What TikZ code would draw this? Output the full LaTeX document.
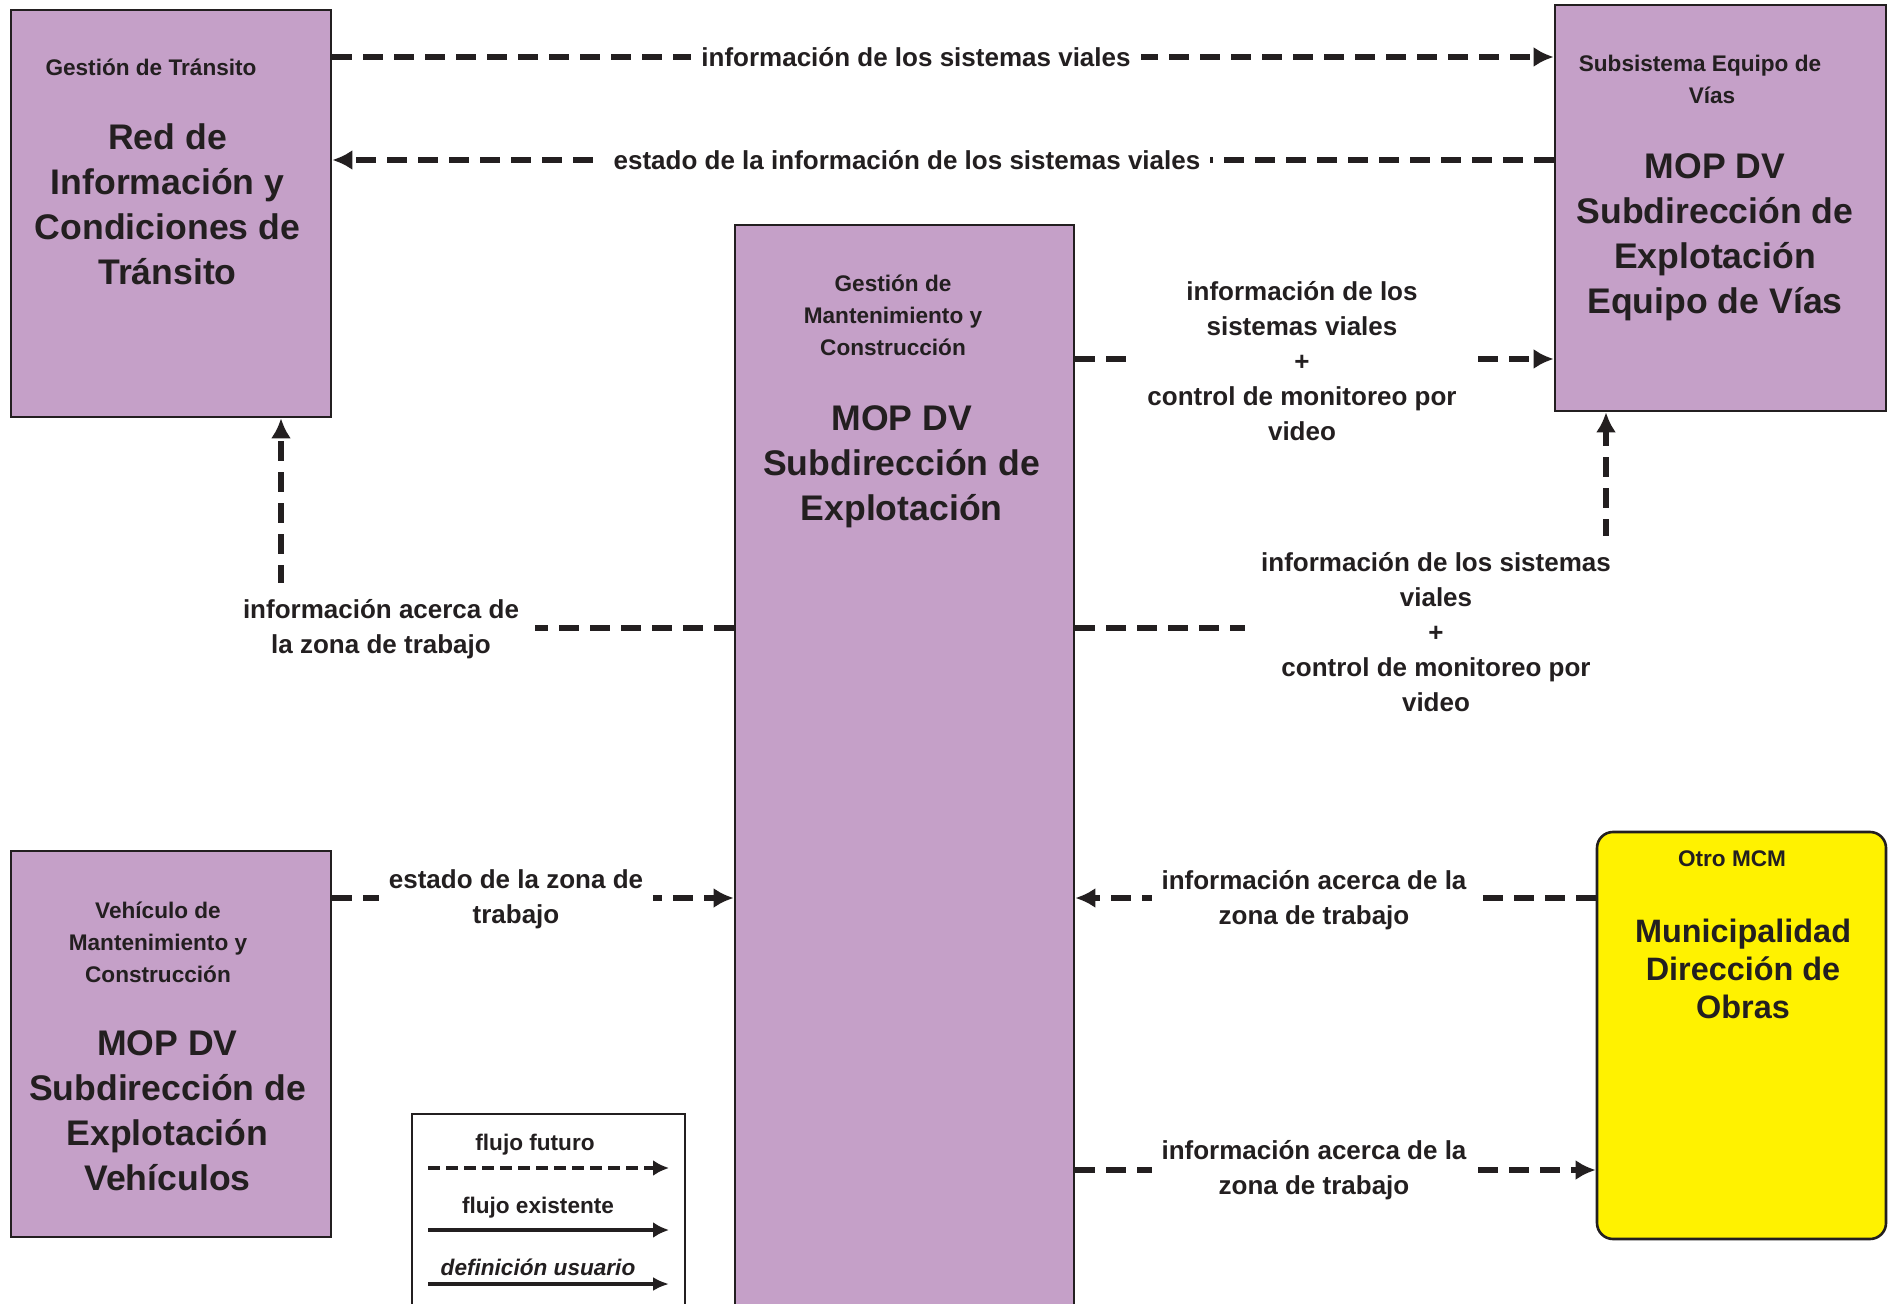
\documentclass[tikz,border=0pt]{standalone}
\usepackage{fontspec}
\setmainfont{Liberation Sans}
\usetikzlibrary{arrows.meta}
\definecolor{mauve}{RGB}{197,160,200}
\definecolor{amarillo}{RGB}{255,242,0}
\definecolor{tinta}{RGB}{35,31,32}

\begin{document}
\begin{tikzpicture}[x=0.5pt,y=-0.5pt,
	caja/.style={draw=tinta,line width=1.3pt,fill=mauve,inner sep=0pt},
	titulo/.style={font=\bfseries\fontsize{11.3}{16}\selectfont,align=center,text=tinta},
	nombre/.style={font=\bfseries\fontsize{17.8}{22.5}\selectfont,align=center,text=tinta},
	etiq/.style={fill=white,font=\bfseries\fontsize{13}{17.5}\selectfont,align=center,text=tinta,inner sep=5pt},
	flujo/.style={draw=tinta,line width=2.6pt,dash pattern=on 10pt off 5.5pt,-{Latex[length=10pt,width=10pt]}},
	leyenda/.style={font=\bfseries\fontsize{11.3}{14}\selectfont,text=tinta}]
		\useasboundingbox (0,0) rectangle (1890,1304);
		
		% cajas
		\node[caja,minimum width=160pt,minimum height=203.5pt] (transito) at (171,213.5) {};
		\node[caja,minimum width=165.5pt,minimum height=203pt] (vias) at (1720.5,208) {};
		\node[caja,minimum width=169.5pt,minimum height=542.5pt] (mantencion) at (904.5,767.5) {};
		\node[caja,minimum width=160pt,minimum height=193pt] (vehiculo) at (171,1044) {};
		\node[caja,fill=amarillo,rounded corners=8pt,minimum width=144.5pt,minimum height=203.5pt] (obras) at (1741.5,1035.5) {};
		\node[draw=tinta,line width=1pt,fill=white,minimum width=136.5pt,minimum height=108pt] (leyenda) at (548.5,1222) {};
		
		\node[titulo] (transito-t) at (151,67.5) {Gestión de Tránsito};
		\node[nombre] (transito-n) at (167.5,204) {Red de\\Información y\\Condiciones de\\Tránsito};
		\node[titulo] (vias-t) at (1700,79) {Subsistema Equipo de\\\hspace*{12pt}Vías};
		\node[nombre] (vias-n) at (1715,237) {MOP DV\\Subdirección de\\Explotación\\Equipo de Vías};
		\node[titulo] (mantencion-t) at (893,315) {Gestión de\\Mantenimiento y\\Construcción};
		\node[nombre] (mantencion-n) at (901.6,467) {MOP DV\\Subdirección de\\Explotación};
		\node[titulo] (vehiculo-t) at (158,942) {Vehículo de\\Mantenimiento y\\Construcción};
		\node[nombre] (vehiculo-n) at (167.5,1110.5) {MOP DV\\Subdirección de\\Explotación\\Vehículos};
		\node[titulo] (obras-t) at (1732,859) {Otro MCM};
		\node[nombre,font=\bfseries\fontsize{16.2}{19}\selectfont] (obras-n) at (1743,968.5) {Municipalidad\\Dirección de\\Obras};
		
		% niveles de los flujos
		\coordinate (f1) at (0,57);
		\coordinate (f2) at (0,160);
		\coordinate (f3) at (0,359);
		\coordinate (f4) at (0,628);
		\coordinate (f5) at (0,898);
		\coordinate (f6) at (0,1170);
		\coordinate (codo1) at (281,628);
		\coordinate (codo2) at (1606,628);
		
		\draw[flujo] (transito.east |- f1) -- (vias.west |- f1);
		\draw[flujo] (vias.west |- f2) -- (transito.east |- f2);
		\draw[flujo] (mantencion.east |- f3) -- (vias.west |- f3);
		\draw[flujo] (mantencion.west |- f4) -| (transito.south -| codo1);
		\draw[flujo] (mantencion.east |- f4) -| (vias.south -| codo2);
		\draw[flujo] (vehiculo.east |- f5) -- (mantencion.west |- f5);
		\draw[flujo] (obras.west |- f5) -- (mantencion.east |- f5);
		\draw[flujo] (mantencion.east |- f6) -- (obras.west |- f6);
		
		\node[etiq] (e1) at (916,57) {información de los sistemas viales};
		\node[etiq] (e2) at (907,160) {estado de la información de los sistemas viales};
		\node[etiq] (e3) at (1302,361) {información de los\\sistemas viales\\+\\control de monitoreo por\\video};
		\node[etiq,inner sep=8pt] (e4) at (381,629) {información acerca de\\la zona de trabajo};
		\node[etiq,inner sep=8pt] (e5) at (1436,632) {información de los sistemas\\viales\\+\\control de monitoreo por\\video};
		\node[etiq] (e6) at (516,899) {estado de la zona de\\trabajo};
		\node[etiq] (e7) at (1314,900) {información acerca de la\\zona de trabajo};
		\node[etiq] (e8) at (1314,1170) {información acerca de la\\zona de trabajo};
		
		% leyenda
		\node[leyenda] (futuro) at (535,1145) {flujo futuro};
		\node[leyenda] (existente) at (538,1208) {flujo existente};
		\node[leyenda,font=\bfseries\itshape\fontsize{11.3}{14}\selectfont] (usuario) at (538,1267) {definición usuario};
		\coordinate (a1) at (428,1168);
		\coordinate (b1) at (669,1168);
		\coordinate (a2) at (428,1230);
		\coordinate (b2) at (669,1230);
		\coordinate (a3) at (428,1284);
		\coordinate (b3) at (669,1284);
		\draw[tinta,line width=2pt,dash pattern=on 6pt off 3pt,-{Latex[length=8pt,width=8pt]}] (a1) -- (b1);
		\draw[tinta,line width=2.4pt,-{Latex[length=8pt,width=8pt]}] (a2) -- (b2);
		\draw[tinta,line width=2.4pt,-{Latex[length=8pt,width=7pt]}] (a3) -- (b3);
\end{tikzpicture}
\end{document}
